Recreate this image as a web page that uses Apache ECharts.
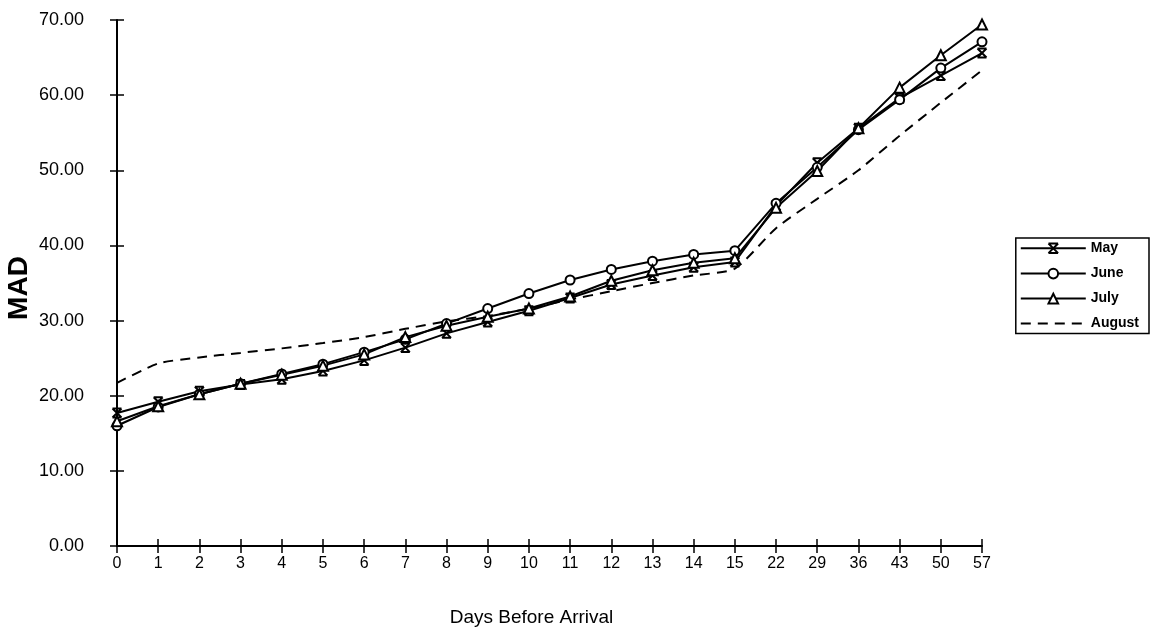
<!DOCTYPE html>
<html><head><meta charset="utf-8">
<script src="https://cdn.jsdelivr.net/npm/echarts@6/dist/echarts.min.js"></script>
<style>html,body{margin:0;padding:0;background:#fff}#c{width:1154px;height:636px}</style>
</head><body><div id="c"></div>
<script>
const days = ['0','1','2','3','4','5','6','7','8','9','10','11','12','13','14','15','22','29','36','43','50','57'];
const may    = [17.7,19.2,20.6,21.5,22.2,23.3,24.7,26.4,28.3,29.8,31.3,33.0,34.8,36.0,37.1,37.8,45.3,51.0,55.6,59.6,62.6,65.6];
const june   = [16.0,18.5,20.2,21.6,22.9,24.2,25.8,27.5,29.6,31.6,33.6,35.4,36.8,37.9,38.8,39.3,45.6,50.4,55.4,59.4,63.6,67.1];
const july   = [16.6,18.6,20.2,21.6,22.8,24.0,25.5,27.8,29.3,30.5,31.6,33.2,35.3,36.7,37.7,38.3,45.0,49.9,55.6,61.0,65.3,69.4];
const august = [21.7,24.3,25.1,25.7,26.3,27.0,27.8,28.9,29.9,30.6,31.6,32.8,33.9,35.0,36.0,36.9,42.3,46.2,50.0,54.6,59.0,63.3];

const NARROW = "'Liberation Sans Narrow','Liberation Sans',Arial,sans-serif";
const SANS = "'Liberation Sans',Arial,sans-serif";
const chart = echarts.init(document.getElementById('c'), null, {renderer:'canvas'});
const lineS = (name, data, symbol, size, extra) => Object.assign({
  name, type:'line', data, xAxisIndex:0, yAxisIndex:0,
  symbol, symbolSize:size, showSymbol:true,
  lineStyle:{color:'#000', width:2},
  itemStyle:{color:'#fff', borderColor:'#000', borderWidth:2},
  emphasis:{disabled:true}, animation:false
}, extra||{});
chart.setOption({
  animation:false,
  backgroundColor:'#fff',
  textStyle:{fontFamily:SANS, color:'#000'},
  grid:{left:117, right:172, top:20, bottom:90, containLabel:false, outerBoundsMode:'none'},
  legend:{
    orient:'vertical', right:5, top:238, itemWidth:65, itemHeight:12, itemGap:11, itemTextGap:4,
    padding:[3,10,3,4], borderColor:'#000', borderWidth:1.5,
    textStyle:{fontFamily:NARROW, fontSize:14, fontWeight:'bold', color:'#000'},
    data:['May','June','July',{name:'August', itemStyle:{color:'transparent', borderColor:'transparent', borderWidth:0}}]
  },
  xAxis:[{
    type:'category', data:days, boundaryGap:false,
    name:'Days Before Arrival', nameLocation:'middle', nameGap:62,
    nameTextStyle:{fontSize:19, fontFamily:SANS, color:'#000', padding:[0,36,0,0]},
    axisLine:{lineStyle:{color:'#000', width:2}},
    axisTick:{alignWithLabel:true, length:7, lineStyle:{color:'#000', width:1.5}},
    axisLabel:{fontSize:16, color:'#000', margin:10, fontFamily:SANS, interval:0},
    splitLine:{show:false}
  },{
    type:'category', data:days, boundaryGap:false, position:'bottom',
    axisLine:{show:false},
    axisTick:{inside:true, length:7, lineStyle:{color:'#000', width:1.5}},
    axisLabel:{show:false}, splitLine:{show:false}
  }],
  yAxis:[{
    type:'value', min:0, max:70, interval:10,
    name:'MAD', nameLocation:'middle', nameGap:84, nameMoveOverlap:false,
    nameTextStyle:{fontSize:28, fontWeight:'bold', fontFamily:NARROW, color:'#000', padding:[0,10,0,0]},
    axisLine:{show:true, lineStyle:{color:'#000', width:2}},
    axisTick:{show:true, length:7, lineStyle:{color:'#000', width:1.5}},
    axisLabel:{fontSize:18, color:'#000', margin:33, fontFamily:SANS, formatter:v=>v.toFixed(2)},
    splitLine:{show:false}
  },{
    type:'value', min:0, max:70, interval:10, position:'left',
    axisLine:{show:false},
    axisTick:{show:true, inside:true, length:7, lineStyle:{color:'#000', width:1.5}},
    axisLabel:{show:false}, splitLine:{show:false}
  }],
  series:[
    lineS('May', may, 'path://M0,0L10,10M10,0L0,10M0,0L10,0M0,10L10,10', 9, {itemStyle:{color:'none', borderColor:'#000', borderWidth:2}}),
    lineS('June', june, 'circle', 9),
    lineS('July', july, 'triangle', 10),
    lineS('August', august, 'none', 0, {smooth:0.2, lineStyle:{color:'#000', width:2, type:[10,7]}, itemStyle:{color:'#000'}})
  ]
});
</script></body></html>
